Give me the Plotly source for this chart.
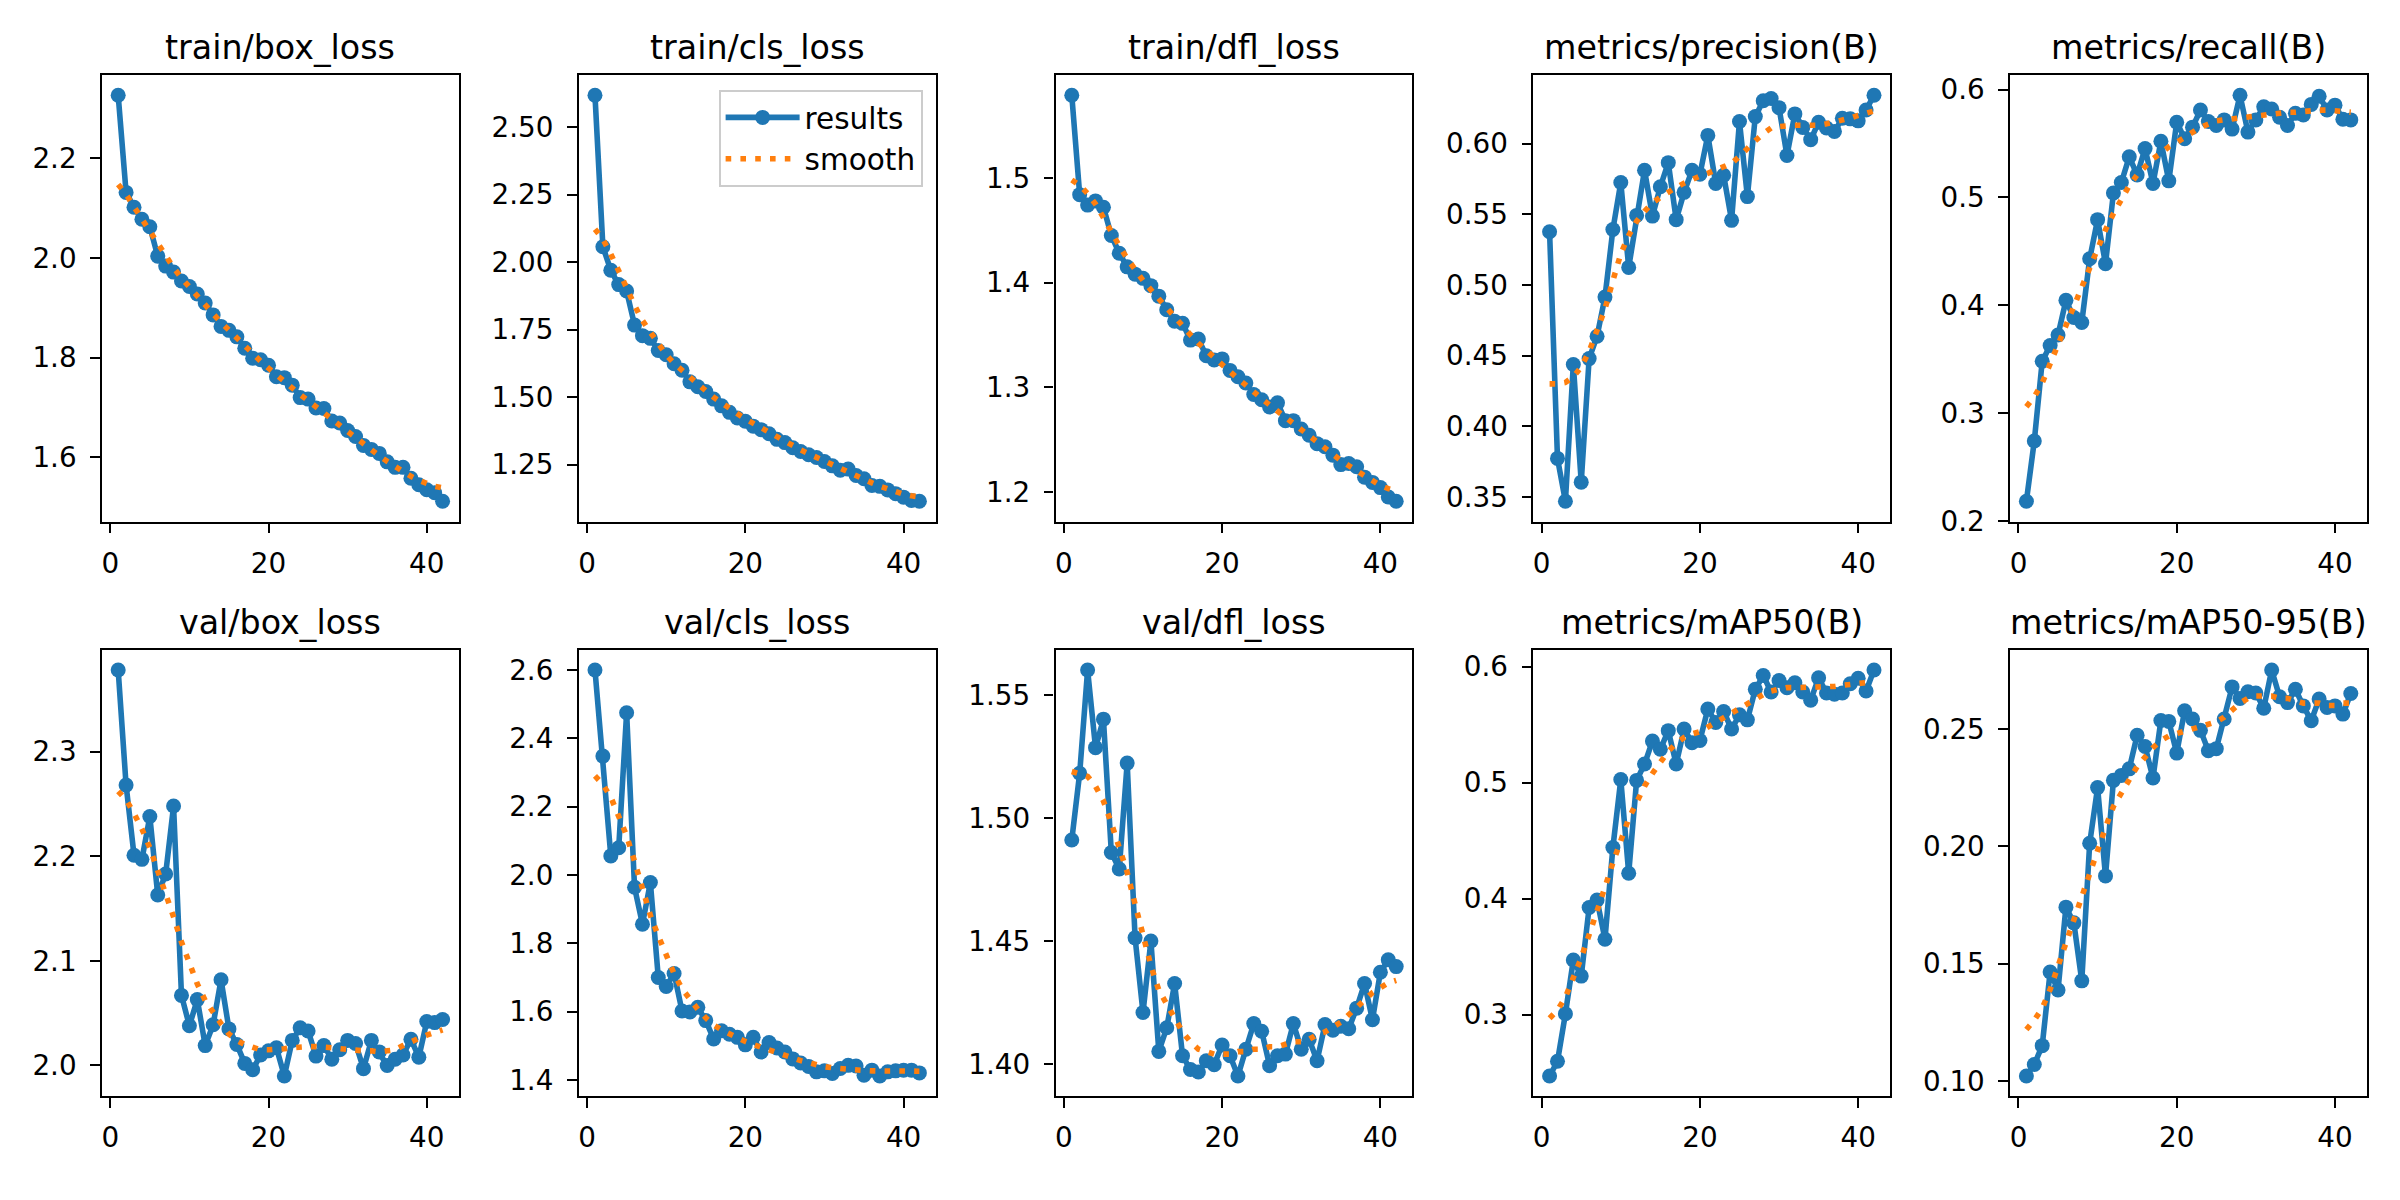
import plotly.graph_objects as go

epochs = list(range(1, 43))

titles = ["train/box_loss", "train/cls_loss", "train/dfl_loss", "metrics/precision(B)", "metrics/recall(B)",
          "val/box_loss", "val/cls_loss", "val/dfl_loss", "metrics/mAP50(B)", "metrics/mAP50-95(B)"]

train_box_loss = [2.327, 2.132, 2.102, 2.078, 2.063, 2.004, 1.984, 1.972, 1.954, 1.943,
                  1.928, 1.910, 1.886, 1.863, 1.855, 1.842, 1.819, 1.799, 1.796, 1.785,
                  1.762, 1.760, 1.745, 1.720, 1.717, 1.699, 1.698, 1.673, 1.669, 1.654,
                  1.642, 1.624, 1.616, 1.608, 1.591, 1.580, 1.580, 1.558, 1.545, 1.535,
                  1.529, 1.512]
train_box_smooth = [2.148, 2.128, 2.103, 2.078, 2.052, 2.027, 2.003, 1.981, 1.960, 1.941,
                    1.923, 1.905, 1.888, 1.871, 1.855, 1.839, 1.823, 1.808, 1.793, 1.779,
                    1.765, 1.752, 1.739, 1.726, 1.714, 1.701, 1.689, 1.676, 1.664, 1.652,
                    1.640, 1.627, 1.615, 1.603, 1.592, 1.581, 1.571, 1.562, 1.554, 1.547,
                    1.542, 1.539]

train_cls_loss = [2.618, 2.057, 1.970, 1.917, 1.893, 1.767, 1.728, 1.718, 1.673, 1.657,
                  1.624, 1.600, 1.557, 1.539, 1.521, 1.493, 1.468, 1.444, 1.423, 1.411,
                  1.393, 1.380, 1.365, 1.344, 1.332, 1.313, 1.299, 1.287, 1.277, 1.262,
                  1.246, 1.230, 1.234, 1.210, 1.198, 1.173, 1.170, 1.157, 1.143, 1.130,
                  1.118, 1.115]
train_cls_smooth = [2.122, 2.085, 2.030, 1.973, 1.905, 1.840, 1.784, 1.741, 1.696, 1.657,
                    1.625, 1.598, 1.572, 1.548, 1.524, 1.500, 1.478, 1.458, 1.439, 1.420,
                    1.403, 1.386, 1.369, 1.352, 1.336, 1.320, 1.305, 1.291, 1.277, 1.263,
                    1.249, 1.235, 1.222, 1.209, 1.196, 1.183, 1.171, 1.160, 1.150, 1.141,
                    1.135, 1.131]

train_dfl_loss = [1.579, 1.484, 1.474, 1.478, 1.472, 1.445, 1.428, 1.415, 1.408, 1.404,
                  1.397, 1.387, 1.374, 1.363, 1.361, 1.345, 1.346, 1.330, 1.326, 1.327,
                  1.316, 1.310, 1.304, 1.293, 1.288, 1.281, 1.285, 1.268, 1.268, 1.260,
                  1.254, 1.246, 1.243, 1.235, 1.226, 1.227, 1.224, 1.214, 1.209, 1.204,
                  1.195, 1.191]
train_dfl_smooth = [1.498, 1.493, 1.485, 1.475, 1.462, 1.448, 1.435, 1.423, 1.412, 1.402,
                    1.393, 1.384, 1.375, 1.366, 1.358, 1.350, 1.342, 1.335, 1.328, 1.321,
                    1.315, 1.308, 1.302, 1.295, 1.289, 1.283, 1.277, 1.271, 1.265, 1.259,
                    1.253, 1.247, 1.241, 1.235, 1.230, 1.225, 1.220, 1.215, 1.210, 1.206,
                    1.203, 1.201]

precision = [0.5376, 0.3773, 0.3470, 0.4437, 0.3605, 0.4479, 0.4637, 0.4914, 0.5392, 0.5725,
             0.5124, 0.5492, 0.5811, 0.5487, 0.5695, 0.5865, 0.5462, 0.5655, 0.5811, 0.5783,
             0.6058, 0.5718, 0.5776, 0.5457, 0.6156, 0.5625, 0.6191, 0.6303, 0.6319, 0.6254,
             0.5916, 0.6210, 0.6114, 0.6028, 0.6151, 0.6110, 0.6086, 0.6179, 0.6175, 0.6161,
             0.6238, 0.6342]
precision_smooth = [0.430, 0.430, 0.431, 0.435, 0.442, 0.453, 0.468, 0.483, 0.503, 0.522,
                    0.535, 0.545, 0.552, 0.558, 0.562, 0.566, 0.569, 0.572, 0.575, 0.577,
                    0.579, 0.581, 0.583, 0.586, 0.591, 0.597, 0.602, 0.607, 0.611, 0.612,
                    0.613, 0.613, 0.613, 0.613, 0.613, 0.614, 0.615, 0.616, 0.618, 0.620,
                    0.622, 0.623]

recall = [0.2183, 0.2742, 0.3481, 0.3627, 0.3725, 0.4046, 0.3887, 0.3841, 0.4431, 0.4794,
          0.4385, 0.5041, 0.5139, 0.5377, 0.5209, 0.5453, 0.5130, 0.5521, 0.5154, 0.5698,
          0.5545, 0.5652, 0.5811, 0.5704, 0.5667, 0.5719, 0.5634, 0.5948, 0.5606, 0.5719,
          0.5841, 0.5820, 0.5744, 0.5667, 0.5780, 0.5765, 0.5863, 0.5939, 0.5811, 0.5856,
          0.5725, 0.5719]
recall_smooth = [0.306, 0.315, 0.328, 0.346, 0.364, 0.381, 0.398, 0.417, 0.436, 0.453,
                 0.470, 0.485, 0.499, 0.511, 0.521, 0.529, 0.536, 0.541, 0.547, 0.551,
                 0.556, 0.561, 0.565, 0.568, 0.571, 0.572, 0.573, 0.574, 0.575, 0.576,
                 0.577, 0.577, 0.578, 0.579, 0.579, 0.580, 0.581, 0.581, 0.581, 0.580,
                 0.579, 0.579]

val_box_loss = [2.378, 2.268, 2.201, 2.197, 2.238, 2.163, 2.183, 2.248, 2.067, 2.038,
                2.063, 2.019, 2.039, 2.082, 2.035, 2.020, 2.002, 1.996, 2.010, 2.014,
                2.017, 1.990, 2.024, 2.036, 2.033, 2.009, 2.019, 2.006, 2.015, 2.024,
                2.021, 1.997, 2.024, 2.013, 2.000, 2.006, 2.010, 2.025, 2.008, 2.042,
                2.041, 2.044]
val_box_smooth = [2.262, 2.254, 2.241, 2.226, 2.208, 2.187, 2.165, 2.142, 2.118, 2.096,
                  2.078, 2.062, 2.050, 2.040, 2.030, 2.024, 2.020, 2.017, 2.015, 2.015,
                  2.015, 2.016, 2.017, 2.018, 2.018, 2.018, 2.018, 2.017, 2.016, 2.015,
                  2.015, 2.014, 2.014, 2.013, 2.014, 2.015, 2.019, 2.023, 2.026, 2.029,
                  2.032, 2.034]

val_cls_loss = [2.600, 2.348, 2.056, 2.080, 2.475, 1.964, 1.856, 1.978, 1.700, 1.674,
                1.712, 1.602, 1.599, 1.613, 1.574, 1.520, 1.544, 1.534, 1.525, 1.503,
                1.525, 1.482, 1.510, 1.494, 1.482, 1.462, 1.450, 1.440, 1.424, 1.427,
                1.419, 1.434, 1.443, 1.441, 1.414, 1.429, 1.412, 1.424, 1.427, 1.429,
                1.429, 1.421]
val_cls_smooth = [2.290, 2.265, 2.228, 2.175, 2.115, 2.040, 1.960, 1.882, 1.822, 1.765,
                  1.711, 1.667, 1.635, 1.607, 1.582, 1.561, 1.547, 1.535, 1.524, 1.513,
                  1.504, 1.497, 1.489, 1.481, 1.473, 1.465, 1.457, 1.450, 1.443, 1.439,
                  1.436, 1.433, 1.431, 1.429, 1.428, 1.427, 1.427, 1.427, 1.427, 1.427,
                  1.426, 1.426]

val_dfl_loss = [1.4911, 1.5183, 1.5603, 1.5287, 1.5403, 1.4860, 1.4793, 1.5224, 1.4513, 1.4209,
                1.4500, 1.4051, 1.4147, 1.4327, 1.4033, 1.3977, 1.3967, 1.4013, 1.3997, 1.4077,
                1.4033, 1.3951, 1.4060, 1.4164, 1.4133, 1.3993, 1.4033, 1.4040, 1.4164, 1.4060,
                1.4100, 1.4013, 1.4160, 1.4137, 1.4153, 1.4143, 1.4227, 1.4327, 1.4180, 1.4373,
                1.4424, 1.4396]
val_dfl_smooth = [1.519, 1.518, 1.517, 1.513, 1.507, 1.498, 1.488, 1.478, 1.465, 1.452,
                  1.440, 1.430, 1.424, 1.418, 1.413, 1.409, 1.406, 1.405, 1.404, 1.404,
                  1.404, 1.405, 1.405, 1.406, 1.406, 1.407, 1.407, 1.408, 1.409, 1.409,
                  1.410, 1.412, 1.413, 1.415, 1.417, 1.420, 1.423, 1.426, 1.429, 1.431,
                  1.433, 1.434]

map50 = [0.2472, 0.2599, 0.3008, 0.3472, 0.3333, 0.3924, 0.3989, 0.3650, 0.4441, 0.5028,
         0.4220, 0.5020, 0.5161, 0.5359, 0.5288, 0.5449, 0.5161, 0.5463, 0.5345, 0.5364,
         0.5636, 0.5520, 0.5613, 0.5463, 0.5585, 0.5542, 0.5805, 0.5924, 0.5782, 0.5881,
         0.5819, 0.5862, 0.5782, 0.5712, 0.5904, 0.5774, 0.5763, 0.5774, 0.5853, 0.5901,
         0.5791, 0.5972]
map50_smooth = [0.297, 0.304, 0.315, 0.331, 0.349, 0.369, 0.388, 0.410, 0.431, 0.451,
                0.469, 0.483, 0.497, 0.508, 0.518, 0.527, 0.534, 0.539, 0.542, 0.544,
                0.548, 0.552, 0.556, 0.561, 0.564, 0.568, 0.572, 0.576, 0.579, 0.581,
                0.582, 0.582, 0.582, 0.582, 0.582, 0.582, 0.583, 0.584, 0.585, 0.586,
                0.586, 0.587]

map50_95 = [0.1022, 0.1071, 0.1151, 0.1465, 0.1388, 0.1741, 0.1674, 0.1427, 0.2013, 0.2250,
            0.1874, 0.2281, 0.2302, 0.2330, 0.2473, 0.2425, 0.2291, 0.2536, 0.2532, 0.2397,
            0.2577, 0.2542, 0.2494, 0.2407, 0.2416, 0.2542, 0.2679, 0.2630, 0.2658, 0.2653,
            0.2588, 0.2751, 0.2637, 0.2612, 0.2669, 0.2598, 0.2535, 0.2627, 0.2591, 0.2598,
            0.2563, 0.2651]
map50_95_smooth = [0.122, 0.126, 0.131, 0.139, 0.149, 0.159, 0.168, 0.178, 0.188, 0.198,
                   0.208, 0.217, 0.223, 0.229, 0.234, 0.238, 0.242, 0.245, 0.247, 0.248,
                   0.249, 0.250, 0.251, 0.252, 0.253, 0.255, 0.258, 0.261, 0.263, 0.264,
                   0.264, 0.264, 0.263, 0.263, 0.262, 0.261, 0.261, 0.261, 0.260, 0.260,
                   0.261, 0.261]

results_series = [train_box_loss, train_cls_loss, train_dfl_loss, precision, recall,
                  val_box_loss, val_cls_loss, val_dfl_loss, map50, map50_95]
smooth_series = [train_box_smooth, train_cls_smooth, train_dfl_smooth, precision_smooth, recall_smooth,
                 val_box_smooth, val_cls_smooth, val_dfl_smooth, map50_smooth, map50_95_smooth]

x_ticks = [0, 20, 40]
y_ticks = [
    [1.6, 1.8, 2.0, 2.2],
    [1.25, 1.50, 1.75, 2.00, 2.25, 2.50],
    [1.2, 1.3, 1.4, 1.5],
    [0.35, 0.40, 0.45, 0.50, 0.55, 0.60],
    [0.2, 0.3, 0.4, 0.5, 0.6],
    [2.0, 2.1, 2.2, 2.3],
    [1.4, 1.6, 1.8, 2.0, 2.2, 2.4, 2.6],
    [1.40, 1.45, 1.50, 1.55],
    [0.3, 0.4, 0.5, 0.6],
    [0.10, 0.15, 0.20, 0.25],
]
y_tick_fmt = ["{:.1f}", "{:.2f}", "{:.1f}", "{:.2f}", "{:.1f}",
              "{:.1f}", "{:.1f}", "{:.2f}", "{:.1f}", "{:.2f}"]

# ---- layout geometry (pixels in a 2400x1200 canvas) ----
W, H = 2400, 1200
col_left = [101, 578, 1055, 1533, 2010]
ax_w = 357
row_top = [75, 658]
ax_h = 453

FONT = "DejaVu Sans"
BLUE = "#1f77b4"
ORANGE = "#ff7f0e"

fig = go.Figure()
layout = dict(
    width=W, height=H, margin=dict(l=0, r=0, t=0, b=0),
    paper_bgcolor="white", plot_bgcolor="white",
    font=dict(family=FONT, color="black", size=28),
    annotations=[],
)

for i in range(10):
    r, c = divmod(i, 5)
    n = i + 1
    xa = "x" if n == 1 else f"x{n}"
    ya = "y" if n == 1 else f"y{n}"
    ys = results_series[i]
    sm = smooth_series[i]
    show = (i == 1)
    fig.add_trace(go.Scatter(
        x=epochs, y=ys, mode="lines+markers", name="results",
        line=dict(color=BLUE, width=5.6), marker=dict(color=BLUE, size=15),
        xaxis=xa, yaxis=ya, showlegend=show))
    fig.add_trace(go.Scatter(
        x=epochs, y=sm, mode="lines", name="smooth",
        line=dict(color=ORANGE, width=5.6, dash="5.6px,9.2px"),
        xaxis=xa, yaxis=ya, showlegend=show))

    lo = min(min(ys), min(sm))
    hi = max(max(ys), max(sm))
    pad = (hi - lo) * 0.05
    xpad = (epochs[-1] - epochs[0]) * 0.05

    x0 = col_left[c] / W
    x1 = (col_left[c] + ax_w) / W
    y1 = 1 - row_top[r] / H
    y0 = 1 - (row_top[r] + ax_h) / H

    common = dict(showgrid=False, zeroline=False, showline=True, mirror=True,
                  linecolor="black", linewidth=2.2, ticks="outside", ticklen=9.7,
                  tickwidth=2.2, tickcolor="black",
                  tickfont=dict(family=FONT, size=27.8, color="black"))
    layout["xaxis" if n == 1 else f"xaxis{n}"] = dict(
        domain=[x0, x1], anchor=ya, range=[epochs[0] - xpad, epochs[-1] + xpad],
        tickvals=x_ticks, ticktext=[str(v) for v in x_ticks], ticklabelstandoff=6, **common)
    layout["yaxis" if n == 1 else f"yaxis{n}"] = dict(
        domain=[y0, y1], anchor=xa, range=[lo - pad, hi + pad],
        tickvals=y_ticks[i], ticktext=[y_tick_fmt[i].format(v) for v in y_ticks[i]],
        ticklabelstandoff=8, **common)
    layout["annotations"].append(dict(
        text=titles[i], x=(x0 + x1) / 2, y=y1, xref="paper", yref="paper",
        xanchor="center", yanchor="bottom", yshift=6, showarrow=False,
        font=dict(family=FONT, size=33.3, color="black")))

layout["legend"] = dict(
    x=(col_left[1] + ax_w - 13) / W, y=1 - (row_top[0] + 15) / H,
    xanchor="right", yanchor="top", itemwidth=74,
    bgcolor="rgba(255,255,255,0.8)", bordercolor="#cccccc", borderwidth=2,
    font=dict(family=FONT, size=29.5, color="black"),
)

fig.update_layout(**layout)
fig.write_html("out.html")
